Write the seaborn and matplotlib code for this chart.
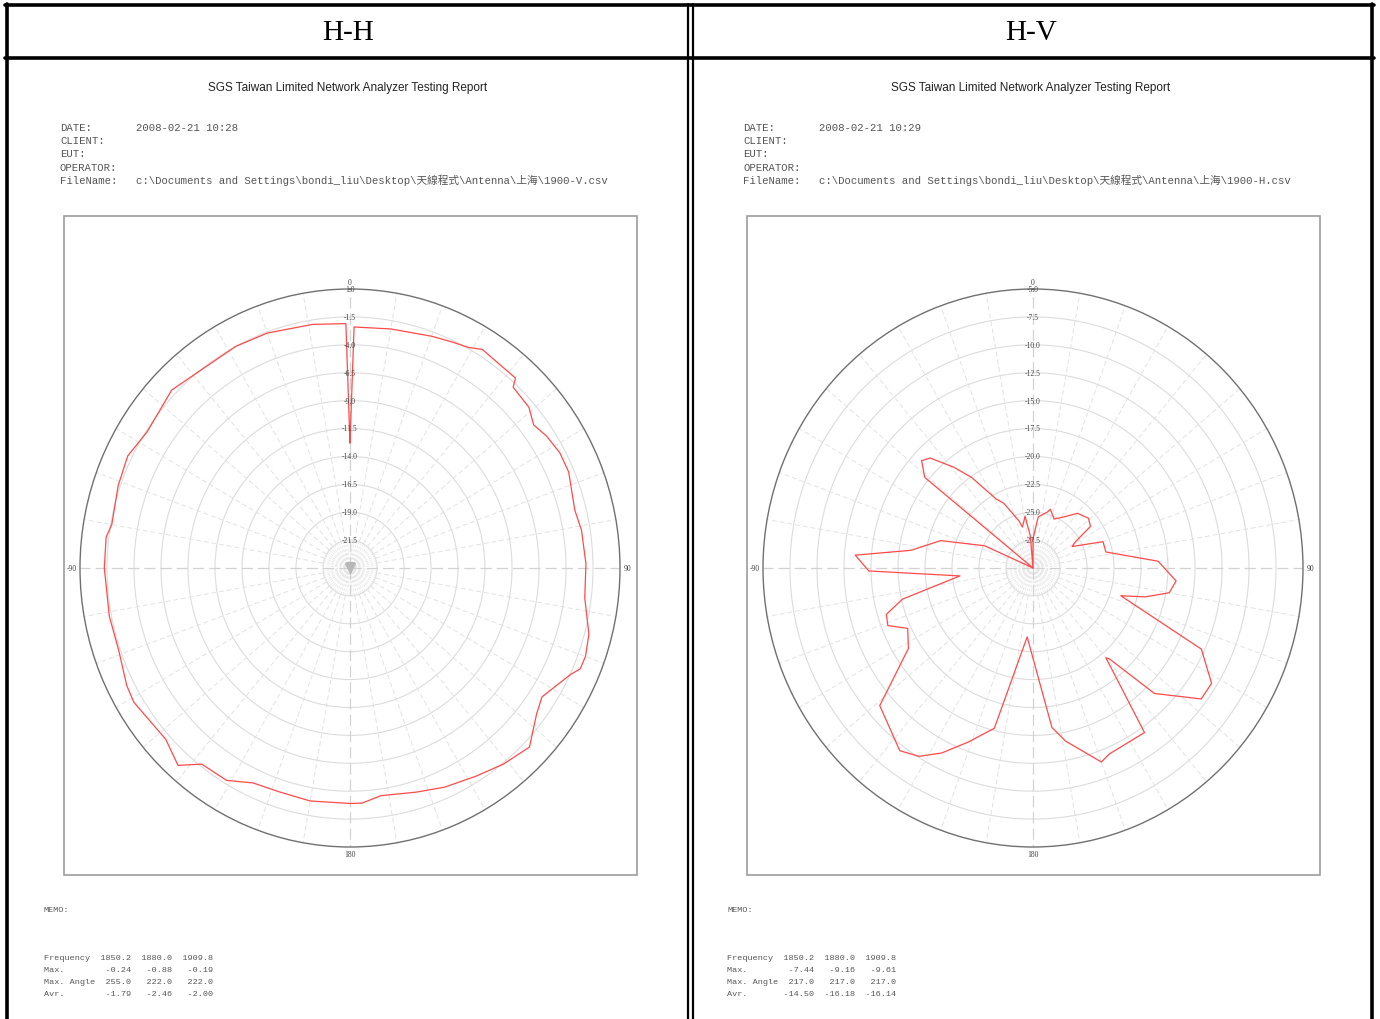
"""
Recreation of an SGS antenna test sheet: two polar radiation patterns
(H-H and H-V) side by side inside a bordered table.
"""

import numpy as np
import matplotlib.pyplot as plt
import seaborn as sns
from matplotlib.patches import Rectangle
from matplotlib.lines import Line2D

# Canvas in pixels (drawn at 100 dpi)
W, H = 1380, 1020
PANEL_SHIFT = 683  # x offset of the right panel

# Memo table values
FREQS = ["1850.2", "1880.0", "1909.8"]
HH_MAX = [-0.24, -0.88, -0.19]
HH_MAX_ANGLE = [255.0, 222.0, 222.0]
HH_AVG = [-1.79, -2.46, -2.00]
HV_MAX = [-7.44, -9.16, -9.61]
HV_MAX_ANGLE = [217.0, 217.0, 217.0]
HV_AVG = [-14.50, -16.18, -16.14]

# Ring labels (outer ring first)
HH_RINGS = [1.0, -1.5, -4.0, -6.5, -9.0, -11.5, -14.0, -16.5, -19.0, -21.5]
HV_RINGS = [-5.0, -7.5, -10.0, -12.5, -15.0, -17.5, -20.0, -22.5, -25.0, -27.5]
ANGLE_LABELS = ["0", "90", "180", "-90"]

# H-H pattern: angle (deg, clockwise from top) and level (dB)
HH_ANGLE = [0, 1, 10, 20, 25, 29, 32, 42, 43, 49, 53, 57, 62, 67, 76, 81, 89,
            97, 105, 110, 113, 115, 123, 127, 134, 141, 148, 156, 163, 172,
            177, 180, 190, 198, 205, 211, 218, 222, 228, 239, 243, 251, 259,
            270, 277, 280, 289, 296, 303, 314, 323, 332, 340, 351, 359]
HH_GAIN = [-12.8, -2.4, -2.25, -1.9, -1.65, -1.4, -0.9, -1.1, -1.85, -2.05,
           -2.7, -2.3, -2.0, -2.0, -2.55, -2.3, -2.15, -2.1, -1.1, -0.8,
           -0.85, -1.45, -2.8, -2.35, -0.9, -1.4, -2.0, -2.5, -3.0, -3.4,
           -2.9, -2.9, -2.8, -2.9, -2.75, -1.8, -1.7, -0.2, -1.05, -0.65,
           -0.8, -1.35, -1.3, -1.25, -1.25, -1.6, -1.3, -1.1, -1.6, -1.05,
           -1.55, -1.5, -1.6, -1.9, -2.1]

# H-V pattern
HV_ANGLE = [0, 6, 15, 17, 24, 32, 40, 49, 55, 59, 62, 70, 78, 87, 95, 100,
            104, 107, 115, 122, 127, 135, 139, 140, 145, 157, 160, 169, 173,
            185, 194, 201, 207, 212, 217, 229, 238, 245, 249, 253, 257, 264,
            269, 274, 278, 286, 294, 300, 309, 313, 316, 321, 325, 331, 335,
            343, 345, 351, 355, 357]
HV_GAIN = [-27.4, -25.4, -24.8, -24.5, -25.2, -24.6, -23.6, -23.2, -23.5,
           -25.4, -25.9, -23.1, -23.1, -18.4, -16.7, -17.2, -19.3, -21.5,
           -12.8, -10.5, -10.5, -14.1, -19.2, -19.5, -12.0, -11.9, -11.5,
           -14.2, -15.6, -23.8, -15.2, -13.3, -11.4, -10.1, -9.5, -11.2,
           -16.4, -17.2, -15.6, -15.8, -17.6, -23.2, -14.8, -13.5, -18.6,
           -21.1, -25.1, -30.0, -17.1, -15.9, -16.3, -18.4, -20.1, -22.9,
           -23.6, -25.6, -26.2, -25.3, -27.1, -30.0]

MONO = ["Liberation Mono", "Noto Sans CJK TC"]
SERIF = "Liberation Serif"
TRACE_COLOR = "#ff4a4a"


def fx(x):
    return x / W


def fy(y):
    return 1 - y / H


def _polar(ax, angles, gains, rings, triangle):
    """Draw one radiation pattern on a polar axes."""
    rmax = rings[0]
    rmin = rings[0] - 25
    inner = rings[-1]

    ax.set_aspect("auto")
    ax.set_theta_zero_location("N")
    ax.set_theta_direction(-1)
    ax.set_facecolor("white")

    # spokes
    for deg in range(0, 360, 5):
        ax.plot([np.deg2rad(deg)] * 2, [rmin + 0.4, inner], color="#e6e6e6",
                lw=0.6, dashes=(3, 2), zorder=1)
    for deg in range(0, 360, 10):
        if deg % 90 == 0:
            continue
        ax.plot([np.deg2rad(deg)] * 2, [inner, rmax], color="#e2e2e2",
                lw=0.7, dashes=(5, 3), zorder=1)
    for deg in range(0, 360, 90):
        ax.plot([np.deg2rad(deg)] * 2, [rmin, rmax], color="#d2d2d2",
                lw=0.9, dashes=(9, 4), zorder=1)

    # measured trace (closed loop)
    theta = np.deg2rad(np.append(angles, angles[0] + 360))
    level = np.append(gains, gains[0])
    sns.lineplot(x=theta, y=level, sort=False, estimator=None,
                 color=TRACE_COLOR, lw=0.9, ax=ax, zorder=3)
    ax.set_xlabel("")
    ax.set_ylabel("")

    if triangle:
        ax.plot([0], [rmin], marker="v", ms=7, color="#b8b8b8", zorder=2)

    ax.set_xticks([])
    ax.set_yticks(rings[1:])
    ax.set_yticklabels([])
    ax.set_ylim(rmin, rmax)
    ax.yaxis.grid(True, color="#dcdcdc", lw=0.8, ls="-")
    ax.xaxis.grid(False)
    ax.spines["polar"].set_color("#707070")
    ax.spines["polar"].set_linewidth(1.0)

    for v in rings:
        ax.text(0, v, f"{v:.1f}", ha="center", va="center", fontsize=5.5,
                family=SERIF, color="#444444", zorder=4)

    # angle labels just outside the rim
    pos = [(0.5, 1 + 7 / 558), (1 + 8 / 540, 0.5), (0.5, -7 / 558),
           (-8 / 540, 0.5)]
    for (x, y), lab in zip(pos, ANGLE_LABELS):
        ax.text(x, y, lab, transform=ax.transAxes, ha="center", va="center",
                fontsize=5.5, family=SERIF, color="#444444")


def _panel(fig, dx, head, date, fname, angles, gains, rings,
           vmax, vangle, vavg, triangle):
    """One table cell: header, report text, polar chart and memo."""
    fig.text(fx(348 + dx), fy(33), head, ha="center", va="center",
             fontsize=21, family=SERIF, color="black")
    fig.text(fx(348 + dx), fy(88), "SGS Taiwan Limited Network Analyzer Testing Report",
             ha="center", va="center", fontsize=8.5, family="Liberation Sans",
             color="#222222")

    labels = ["DATE:", "CLIENT:", "EUT:", "OPERATOR:", "FileName:"]
    values = [date, "", "", "", fname]
    for i, (lab, val) in enumerate(zip(labels, values)):
        y = fy(131 + 13.2 * i)  # baseline
        fig.text(fx(60 + dx), y, lab, ha="left", va="baseline", fontsize=7.7,
                 family=MONO, color="#555555")
        fig.text(fx(136 + dx), y, val, ha="left", va="baseline", fontsize=7.7,
                 family=MONO, color="#555555")

    # chart frame
    fig.patches.append(Rectangle((fx(64 + dx), fy(876)), (637 - 64) / W,
                                 (876 - 217) / H, transform=fig.transFigure,
                                 fill=False, edgecolor="#9c9c9c", lw=1.2,
                                 zorder=-1))

    ax = fig.add_axes([fx(350 + dx - 270), fy(569 + 279), 540 / W, 558 / H],
                      projection="polar")
    _polar(ax, angles, gains, rings, triangle)

    # memo block
    fig.text(fx(44 + dx), fy(911), "MEMO:", ha="left", va="center",
             fontsize=6.1, family=MONO, color="#555555")
    rows = [
        "Frequency  " + "  ".join(f"{f:>6}" for f in FREQS),
        "Max.       " + "  ".join(f"{v:6.2f}" for v in vmax),
        "Max. Angle " + "  ".join(f"{v:6.1f}" for v in vangle),
        "Avr.       " + "  ".join(f"{v:6.2f}" for v in vavg),
    ]
    for i, row in enumerate(rows):
        fig.text(fx(44 + dx), fy(959 + 12 * i), row, ha="left", va="center",
                 fontsize=6.1, family=MONO, color="#555555")


def main():
    sns.set_style("white")
    plt.rcParams["font.family"] = ["Liberation Sans", "DejaVu Sans"]

    fig = plt.figure(figsize=(W / 100, H / 100), dpi=100)

    _panel(fig, 0, "H-H", "2008-02-21 10:28",
           r"c:\Documents and Settings\bondi_liu\Desktop\天線程式\Antenna\上海\1900-V.csv",
           HH_ANGLE, HH_GAIN, HH_RINGS, HH_MAX, HH_MAX_ANGLE, HH_AVG, True)
    _panel(fig, PANEL_SHIFT, "H-V", "2008-02-21 10:29",
           r"c:\Documents and Settings\bondi_liu\Desktop\天線程式\Antenna\上海\1900-H.csv",
           HV_ANGLE, HV_GAIN, HV_RINGS, HV_MAX, HV_MAX_ANGLE, HV_AVG, False)

    # table borders
    border = dict(transform=fig.transFigure, color="black", zorder=5)
    fig.lines += [
        Line2D([fx(5), fx(1374)], [fy(6), fy(6)], lw=2.6, **border),
        Line2D([fx(6.5), fx(6.5)], [fy(5), 0], lw=2.6, **border),
        Line2D([fx(1372), fx(1372)], [fy(5), 0], lw=2.6, **border),
        Line2D([fx(5), fx(1374)], [fy(58.5), fy(58.5)], lw=2.6, **border),
        Line2D([fx(688), fx(688)], [fy(5), 0], lw=1.6, **border),
        Line2D([fx(692.5), fx(692.5)], [fy(5), 0], lw=1.6, **border),
    ]

    fig.savefig("out.png", dpi=100)
    plt.close(fig)


if __name__ == "__main__":
    main()
